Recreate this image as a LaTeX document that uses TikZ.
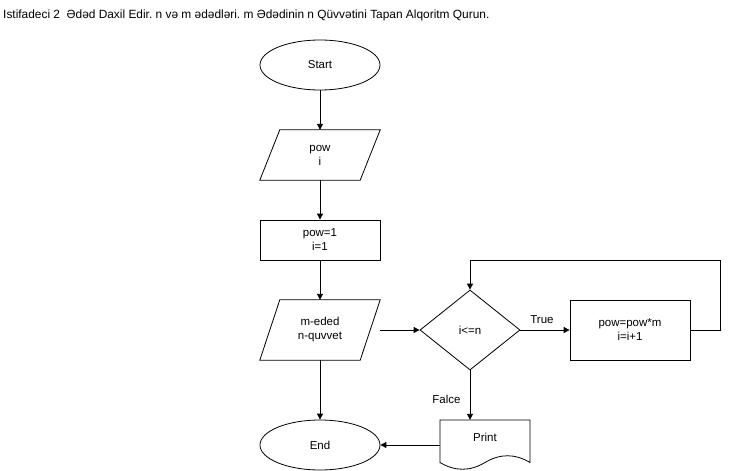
\documentclass[tikz,border=0pt]{standalone}
\usepackage{fontspec}
\setmainfont{Liberation Sans}
\usetikzlibrary{arrows.meta,shapes.geometric}
\frenchspacing
\begin{document}
\begin{tikzpicture}[x=1pt,y=-1pt,
  every node/.style={font=\fontsize{11.5}{14}\selectfont, align=center, inner sep=0pt},
  conn/.style={line width=0.9pt, -{Triangle[length=6pt,width=6pt]}},
  shp/.style={line width=0.8pt},
  term/.style={ellipse, draw, line width=0.8pt, minimum width=120pt, minimum height=50pt},
  proc/.style={rectangle, draw, line width=0.8pt, minimum width=120pt},
  io/.style={rectangle, minimum width=120pt},
  dec/.style={diamond, draw, line width=0.8pt, minimum width=100pt, minimum height=80pt},
  lbl/.style={font=\fontsize{11.5}{14}\selectfont}]
\useasboundingbox (0,0) rectangle (729,471);
\node[anchor=west, font=\fontsize{11.9}{14}\selectfont] (title) at (3,15) {Istifadeci 2\ \ Ədəd Daxil Edir. n və m ədədləri. m Ədədinin n Qüvvətini Tapan Alqoritm Qurun.};
\node[term] (start) at (320,65) {Start};
\node[io, minimum height=50pt] (inp) at (320,155) {pow\\i};
\draw[shp] ([xshift=20pt]inp.north west) -- (inp.north east) -- ([xshift=-20pt]inp.south east) -- (inp.south west) -- cycle;
\node[proc, minimum height=40pt] (init) at (320,240) {pow=1\\i=1};
\node[io, minimum height=60pt] (inp2) at (320,330) {m-eded\\n-quvvet};
\draw[shp] ([xshift=20pt]inp2.north west) -- (inp2.north east) -- ([xshift=-20pt]inp2.south east) -- (inp2.south west) -- cycle;
\node[dec] (cond) at (470,330) {i<=n};
\node[proc, minimum height=60pt] (body) at (630,330) {pow=pow*m\\i=i+1};
\node[rectangle, minimum width=90pt, minimum height=50pt] (print) at (485,445) {};
\draw[shp] (440,420) -- (530,420) -- (530,462.5) .. controls (515,453.5) and (500,453.5) .. (485,462.5) .. controls (470,471.5) and (455,471.5) .. (440,462.5) -- cycle;
\node at (485,437) {Print};
\node[term] (end) at (320,445) {End};
\coordinate (c1) at (720,330);
\coordinate (c2) at (720,260);
\coordinate (c3) at (470,260);
\draw[conn] (start) -- (inp);
\draw[conn] (inp) -- (init);
\draw[conn] (init) -- (inp2);
\draw[conn] (inp2.east) -- (cond.west);
\draw[conn] (cond.east) -- node[lbl, above=6pt, xshift=-3pt] (tl) {True} (body.west);
\draw[conn] (body.east) -- (c1) -- (c2) -- (c3) -- (cond.north);
\draw[conn] (cond.south) -- node[lbl, pos=0.58, left=9pt] (fl) {Falce} (cond.south |- print.north);
\draw[conn] (inp2.south) -- (end.north);
\draw[conn] (print.west) -- (end.east);
\end{tikzpicture}
\end{document}
